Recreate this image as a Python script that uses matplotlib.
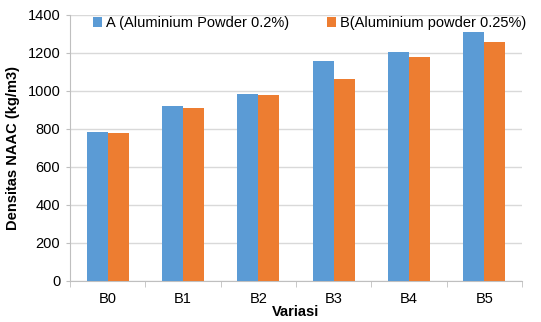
import numpy as np
import matplotlib.pyplot as plt

plt.rcParams['font.family'] = ['Liberation Sans', 'DejaVu Sans']

variasi = ['B0', 'B1', 'B2', 'B3', 'B4', 'B5']
dens_a = [786, 921, 984, 1158, 1205, 1310]
dens_b = [781, 909, 977, 1062, 1179, 1256]
label_a = 'A (Aluminium Powder 0.2%)'
label_b = 'B(Aluminium powder 0.25%)'

x = np.arange(len(variasi))
w = 0.28
fs = 10.5

fig = plt.figure(figsize=(5.41, 3.22), dpi=100)
ax = fig.add_axes([70 / 541, 1 - 281 / 322, 452 / 541, 266 / 322])

ax.bar(x - w / 2, dens_a, w, color='#5B9BD5', label=label_a, zorder=3)
ax.bar(x + w / 2, dens_b, w, color='#ED7D31', label=label_b, zorder=3)

ax.set_xlim(-0.5, len(variasi) - 0.5)
ax.set_ylim(0, 1400)
ax.set_yticks(range(0, 1401, 200))
ax.set_xticks(x)
ax.set_xticklabels(variasi)
ax.set_xticks(np.arange(-0.5, len(variasi)), minor=True)
ax.tick_params(axis='x', which='major', length=0, labelsize=fs, pad=8)
ax.tick_params(axis='x', which='minor', length=4, color='#BFBFBF')
ax.tick_params(axis='y', length=3, color='#BFBFBF', labelsize=fs, pad=4)

ax.yaxis.grid(True, color='#D9D9D9', linewidth=1, zorder=0)
for s in ['top', 'right']:
    ax.spines[s].set_visible(False)
ax.spines['left'].set_color('#BFBFBF')
ax.spines['bottom'].set_color('#BFBFBF')

ax.set_ylabel('Densitas NAAC (kg/m3)', fontsize=fs, fontweight='bold', labelpad=5)
ax.set_xlabel('Variasi', fontsize=fs, fontweight='bold', labelpad=-1)

ax.legend(loc='upper center', bbox_to_anchor=(0.53, 1.045), ncol=2, frameon=False,
          fontsize=fs, handlelength=0.6, handleheight=0.6, handletextpad=0.3,
          columnspacing=2.6)

fig.savefig('out.png', dpi=100)
